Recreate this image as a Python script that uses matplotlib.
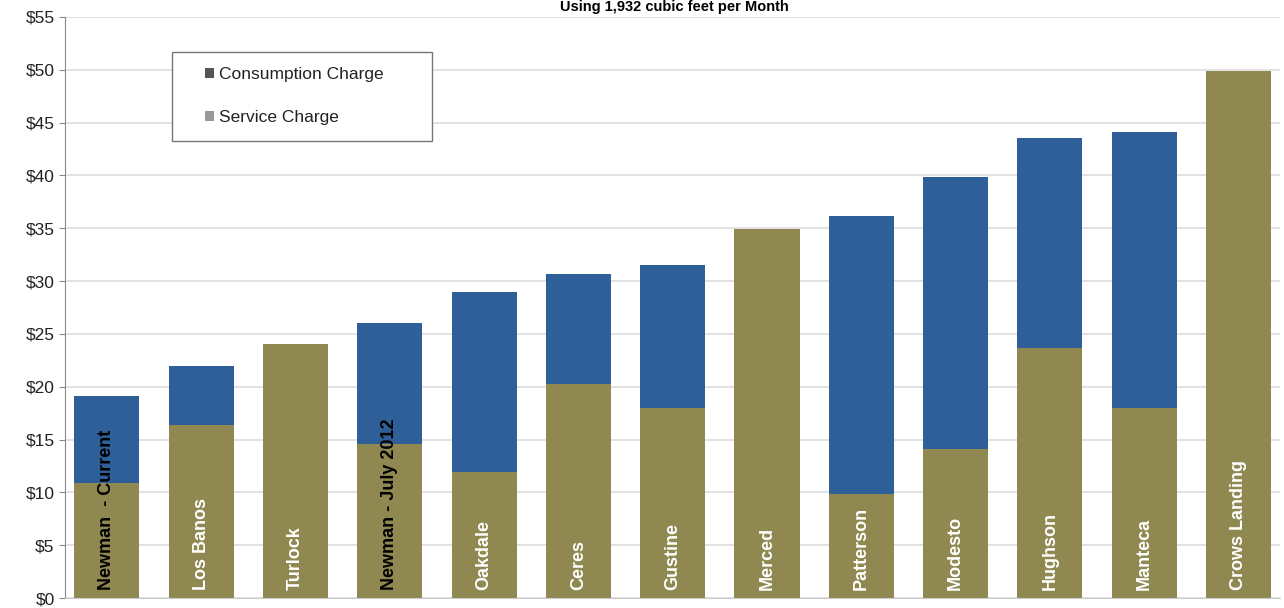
import matplotlib
matplotlib.use("Agg")
import matplotlib.pyplot as plt
from matplotlib.patches import Patch, Rectangle

cities = ["Newman  - Current", "Los Banos", "Turlock", "Newman - July 2012", "Oakdale",
          "Ceres", "Gustine", "Merced", "Patterson", "Modesto", "Hughson", "Manteca",
          "Crows Landing"]
service = [10.9, 16.4, 24.0, 14.6, 11.9, 20.3, 18.0, 34.9, 9.8, 14.1, 23.7, 18.0, 49.9]
consumption = [8.2, 5.6, 0.0, 11.4, 17.1, 10.4, 13.5, 0.0, 26.4, 25.8, 19.8, 26.1, 0.0]
label_colors = ["black", "white", "white", "black", "white", "white", "white", "white",
                "white", "white", "white", "white", "white"]
yticks = [0, 5, 10, 15, 20, 25, 30, 35, 40, 45, 50, 55]
title = "Using 1,932 cubic feet per Month"

plt.rcParams['font.family'] = ['Liberation Sans', 'DejaVu Sans']

W, H = 1284, 608
fig = plt.figure(figsize=(W/100, H/100), dpi=100)
ax = fig.add_axes([65/W, 1 - 598/H, (1280-65)/W, (598-17)/H])

olive = "#8f8850"
blue = "#2f5f98"
x = list(range(len(cities)))
ax.bar(x, service, width=0.69, color=olive, zorder=2)
ax.bar(x, consumption, width=0.69, bottom=service, color=blue, zorder=2)

for i, name in enumerate(cities):
    ax.text(i, 0.8, name, rotation=90, ha='center', va='bottom', fontsize=13,
            fontweight='bold', color=label_colors[i], zorder=3)

ax.set_xlim(-0.445, 12.44)
ax.set_ylim(0, 55)
ax.set_yticks(yticks)
ax.set_yticklabels([f"${v}" for v in yticks], fontsize=12.5, color="#222222")
ax.set_xticks([])
ax.grid(axis='y', color="#dddddd", linewidth=1.2, zorder=0)
for s in ['top', 'right']:
    ax.spines[s].set_visible(False)
ax.spines['left'].set_color("#888888")
ax.spines['bottom'].set_color("#cccccc")
ax.tick_params(axis='y', length=4, color="#888888")

# legend frame
ax.add_patch(Rectangle((172/W, 1 - 141/H), (432-172)/W, (141-52)/H,
                       transform=fig.transFigure, facecolor="white",
                       edgecolor="#777777", linewidth=1.0, zorder=5, clip_on=False))
handles = [Patch(facecolor="#555555", label="Consumption Charge"),
           Patch(facecolor="#999999", label="Service Charge")]
leg = ax.legend(handles=handles, loc='center left',
                bbox_to_anchor=((205-65)/1215, (598-96)/581),
                fontsize=12.5, frameon=False,
                handlelength=0.5, handleheight=0.5, handletextpad=0.3, labelspacing=1.6,
                borderpad=0, borderaxespad=0)
leg.set_zorder(6)
for t in leg.get_texts():
    t.set_color("#222222")

fig.text(0.525, 1.0, title, ha='center', va='top', fontsize=10.5, fontweight='bold')

fig.savefig("out.png", dpi=100)
